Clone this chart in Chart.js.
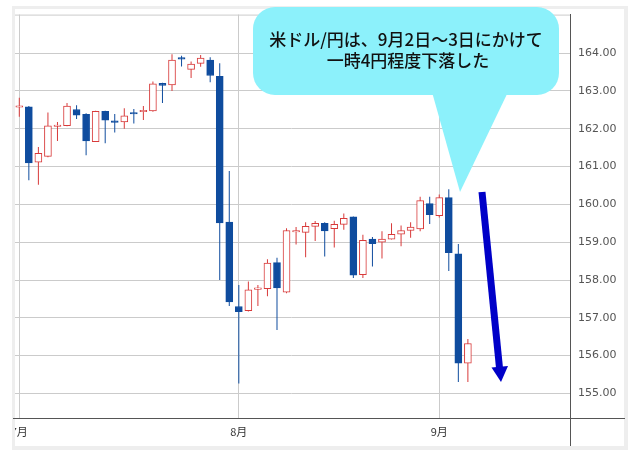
<!DOCTYPE html>
<html>
<head>
<meta charset="utf-8">
<script src="https://cdn.jsdelivr.net/npm/chart.js@4.4.1/dist/chart.umd.min.js"></script>
<style>
  html, body { margin: 0; padding: 0; background: #fff; }
  #wrap { position: relative; width: 640px; height: 450px; }
</style>
</head>
<body>
<div id="wrap"><canvas id="usdjpy" width="640" height="450"></canvas></div>
<script>
// daily candles, one slot per trading day (Jul 1 .. Sep 4)
const opens  = [162.57,162.58,161.12,161.27,162.06,162.08,162.51,162.38,161.66,162.46,162.21,162.18,162.43,162.45,162.47,163.20,
                163.16,163.88,163.57,163.73,163.82,163.39,159.53,157.30,157.19,157.75,157.77,158.46,157.68,159.27,159.26,159.42,
                159.50,159.36,159.47,159.67,158.14,159.08,159.00,159.08,159.21,159.31,159.35,160.02,159.70,160.18,158.69,155.80];
const closes = [162.61,161.10,161.35,162.08,162.10,162.60,162.36,161.68,162.46,162.23,162.17,162.34,162.39,162.49,163.19,163.15,
                163.82,163.84,163.71,163.87,163.41,159.51,157.42,157.16,157.74,157.79,158.45,157.79,159.31,159.31,159.42,159.50,
                159.30,159.47,159.63,158.13,159.05,158.96,159.08,159.21,159.31,159.40,160.10,159.73,160.18,158.72,155.80,156.32];
const highs  = [162.82,162.60,161.52,162.43,162.18,162.68,162.62,162.41,162.48,162.48,162.39,162.54,162.52,162.60,163.25,163.22,
                163.97,163.93,163.78,163.95,163.89,163.73,160.88,157.87,157.96,157.87,158.55,158.59,159.37,159.40,159.53,159.56,
                159.53,159.57,159.76,159.68,159.20,159.14,159.29,159.50,159.44,159.53,160.20,160.20,160.26,160.40,158.95,156.44];
const lows   = [162.32,160.64,160.52,161.25,161.68,162.07,162.26,161.30,161.65,161.62,161.90,162.00,162.14,162.23,162.45,162.68,
                163.00,163.65,163.34,163.64,163.23,158.00,157.31,155.26,157.17,157.31,157.57,156.68,157.65,158.94,158.60,159.03,
                158.62,158.86,159.33,158.05,158.05,158.36,158.57,159.07,158.89,159.12,159.29,159.48,159.65,158.24,155.30,155.30];

const monthLabels = ['7月', '8月', '9月'];
const monthStarts = [0, 23, 44];
const yTicks = [155, 156, 157, 158, 159, 160, 161, 162, 163, 164];

const noteLines = ['米ドル/円は、9月2日〜3日にかけて', '一時4円程度下落した'];

const C = {
  up: '#d83a3a',
  down: '#0f4c9e',
  grid: '#cbcbcb',
  axis: '#555555',
  tick: '#555555',
  month: '#333333',
  frame: '#eeeeee',
  bubble: '#8cf1fb',
  arrow: '#0000c8'
};

const isUp = i => closes[i] >= opens[i];

const decor = {
  id: 'decor',
  beforeDraw(chart) {
    const c = chart.ctx;
    c.save();
    c.fillStyle = '#fff';
    c.fillRect(0, 0, 640, 450);
    c.fillStyle = C.frame;
    c.fillRect(12, 6, 616, 444);
    c.fillStyle = '#fff';
    c.fillRect(15, 9, 609, 437);
    c.restore();
  },
  afterDraw(chart) {
    const c = chart.ctx;
    const a = chart.chartArea;
    c.save();
    // clip left edge like the original crop
    c.fillStyle = '#fff';
    c.fillRect(0, 0, 12, 450);
    c.fillStyle = C.frame;
    c.fillRect(12, 6, 3, 444);

    // top border of plot and axis extensions
    c.strokeStyle = C.grid;
    c.lineWidth = 1;
    c.beginPath();
    c.moveTo(15, a.top + 0.5);
    c.lineTo(a.right, a.top + 0.5);
    c.stroke();
    c.strokeStyle = C.axis;
    c.beginPath();
    c.moveTo(a.left, a.bottom + 0.5);
    c.lineTo(625, a.bottom + 0.5);
    c.moveTo(a.right + 0.5, a.top);
    c.lineTo(a.right + 0.5, 446);
    c.stroke();

    // speech bubble
    c.fillStyle = C.bubble;
    c.beginPath();
    c.roundRect(253, 7, 306, 88, 22);
    c.fill();
    c.beginPath();
    c.moveTo(432, 92);
    c.lineTo(508, 92);
    c.lineTo(460, 192);
    c.closePath();
    c.fill();
    c.fillStyle = '#111';
    c.font = '500 17px "Noto Sans CJK JP"';
    c.textAlign = 'center';
    c.textBaseline = 'alphabetic';
    c.fillText(noteLines[0], 406, 46);
    c.fillText(noteLines[1], 408, 67);

    // down arrow
    c.strokeStyle = C.arrow;
    c.fillStyle = C.arrow;
    c.lineWidth = 7;
    c.lineCap = 'butt';
    c.beginPath();
    c.moveTo(482, 192);
    c.lineTo(499.5, 368);
    c.stroke();
    c.beginPath();
    c.moveTo(491.5, 367.5);
    c.lineTo(508, 366);
    c.lineTo(501, 382);
    c.closePath();
    c.fill();
    c.restore();
  }
};

new Chart(document.getElementById('usdjpy'), {
  type: 'bar',
  data: {
    datasets: [
      {
        label: 'body',
        data: opens.map((o, i) => ({ x: i, y: [Math.min(o, closes[i]), Math.max(o, closes[i])] })),
        backgroundColor: ctx => isUp(ctx.dataIndex) ? '#ffffff' : C.down,
        borderColor: ctx => isUp(ctx.dataIndex) ? C.up : C.down,
        borderWidth: 1,
        borderSkipped: false,
        barThickness: 7,
        grouped: false,
        order: 1
      },
      {
        label: 'wick',
        data: lows.map((l, i) => ({ x: i, y: [l, highs[i]] })),
        backgroundColor: ctx => isUp(ctx.dataIndex) ? C.up : C.down,
        borderWidth: 0,
        barThickness: 1,
        inflateAmount: 0,
        grouped: false,
        order: 2
      }
    ]
  },
  options: {
    responsive: false,
    animation: false,
    events: [],
    layout: { padding: { left: 13, top: 10, right: 15, bottom: 5 } },
    plugins: { legend: { display: false }, tooltip: { enabled: false } },
    scales: {
      x: {
        type: 'linear',
        min: -0.66,
        max: 57.7,
        offset: false,
        afterBuildTicks: s => { s.ticks = monthStarts.map(v => ({ value: v })); },
        afterFit: s => { s.height = 27; },
        ticks: {
          color: C.month,
          padding: 7,
          maxRotation: 0,
          autoSkip: false,
          font: { family: '"Noto Sans CJK JP", "DejaVu Sans"', size: 11 },
          callback: v => monthLabels[monthStarts.indexOf(v)]
        },
        grid: { color: C.grid, drawTicks: false, offset: false },
        border: { color: C.axis }
      },
      y: {
        position: 'right',
        min: 154.35,
        max: 165.02,
        afterBuildTicks: s => { s.ticks = yTicks.map(v => ({ value: v })); },
        afterFit: s => { s.width = 55; },
        ticks: {
          color: C.tick,
          padding: 8,
          font: { family: '"DejaVu Sans"', size: 11 },
          callback: v => v.toFixed(2)
        },
        grid: { color: C.grid, drawTicks: false },
        border: { color: C.axis }
      }
    }
  },
  plugins: [decor]
});
</script>
</body>
</html>
